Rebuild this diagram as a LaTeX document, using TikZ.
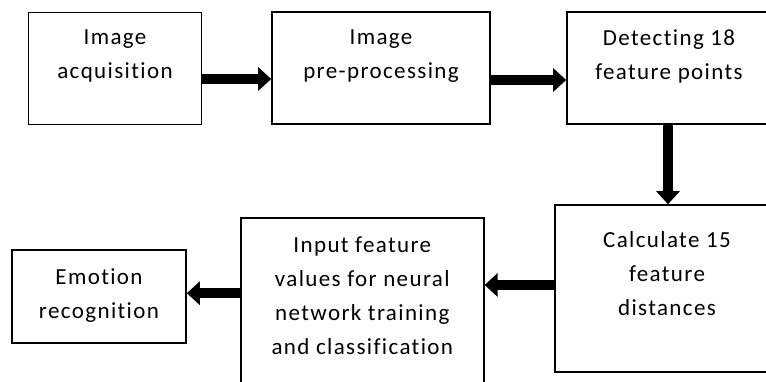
\documentclass[tikz,border=0pt]{standalone}
\usepackage{fontspec}
\setmainfont[Ligatures=NoCommon,LetterSpace=6]{Carlito}
\usetikzlibrary{arrows.meta}
\tikzset{
  box/.style={draw,line width=1.6pt,inner sep=0pt},
  txt/.style={align=center,anchor=north,inner sep=0pt,font=\fontsize{23}{34}\selectfont},
  flow/.style={line width=9.5pt,-{Triangle[width=23pt,length=13pt]}}
}
\begin{document}
\begin{tikzpicture}[x=1pt,y=-1pt]
\useasboundingbox (0,0) rectangle (766,381);
\clip (0,0) rectangle (766,381);

\node[box,minimum width=173,minimum height=112] (acq) at (115,68.5) {};
\node[box,minimum width=218,minimum height=112] (pre) at (381,68) {};
\node[box,minimum width=204,minimum height=112] (det) at (669,68) {};
\node[box,minimum width=224,minimum height=167] (dist) at (667,288.5) {};
\node[box,minimum width=243,minimum height=190] (inp) at (362.3,312.7) {};
\node[box,minimum width=174,minimum height=93] (emo) at (99,296.7) {};

\node[txt] (acqtxt) at ([yshift=-18pt]acq.north) {Image\\acquisition};
\node[txt] (pretxt) at ([yshift=-18pt]pre.north) {Image\\pre-processing};
\node[txt] (dettxt) at ([yshift=-18pt]det.north) {Detecting 18\\feature points};
\node[txt] (disttxt) at ([yshift=-27pt]dist.north) {Calculate 15\\feature\\distances};
\node[txt] (inptxt) at ([yshift=-20pt]inp.north) {Input feature\\values for neural\\network training\\and classification};
\node[txt] (emotxt) at ([yshift=-19pt]emo.north) {Emotion\\recognition};

\draw[flow] ([yshift=-10.5pt]acq.east) -- ([yshift=-10.5pt]acq.east -| pre.west);
\draw[flow] ([yshift=-12pt]pre.east) -- ([yshift=-12pt]pre.east -| det.west);
\draw[flow] ([xshift=-1pt]det.south) -- ([xshift=-1pt]det.south |- dist.north);
\draw[flow] ([yshift=3.5pt]dist.west) -- ([yshift=3.5pt]dist.west -| inp.east);
\draw[flow] ([yshift=3.5pt]emo.east -| inp.west) -- ([yshift=3.5pt]emo.east);

\end{tikzpicture}
\end{document}
